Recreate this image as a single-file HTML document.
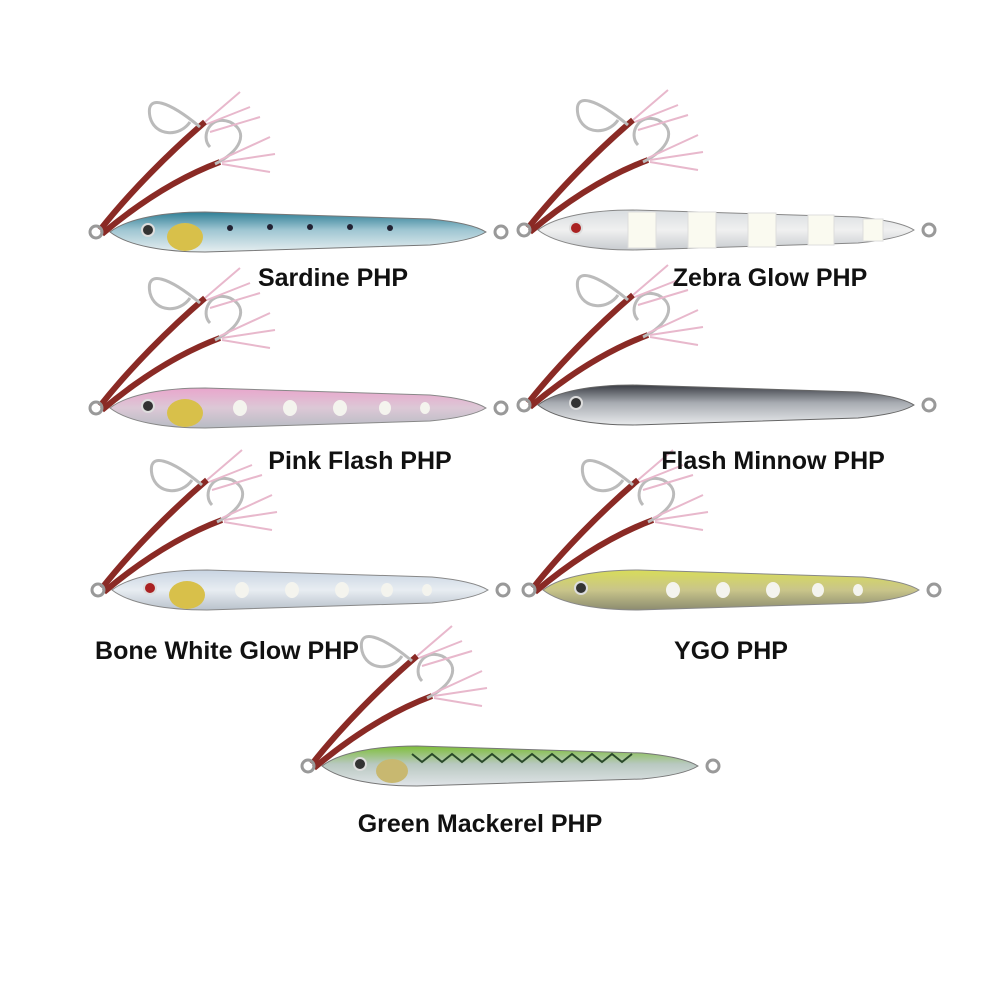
<!DOCTYPE html>
<html><head><meta charset="utf-8"><style>
html,body{margin:0;padding:0;background:#fff;width:1000px;height:1000px;overflow:hidden}
.l{position:absolute;font-family:"Liberation Sans",sans-serif;font-weight:bold;font-size:25px;color:#111;white-space:nowrap;transform:translateX(-50%)}
</style></head><body>
<svg width="1000" height="1000" style="position:absolute;left:0;top:0">
<defs>
<path id="body" d="M0,0 C18,-14 55,-20 95,-20 L320,-13 C352,-10 368,-5 376,0 C368,5 352,10 320,13 L95,20 C55,20 18,14 0,0 Z"/>
<g id="hook" fill="none">
 <path d="M-10,-2 C20,-40 60,-80 95,-110" stroke="#8a2a25" stroke-width="6"/>
 <path d="M-8,2 C30,-30 70,-55 110,-70" stroke="#8a2a25" stroke-width="6"/>
 <path d="M90,-105 C60,-130 35,-140 40,-115 C45,-95 70,-95 80,-110" stroke="#bbb" stroke-width="3"/>
 <path d="M105,-68 C130,-80 140,-100 120,-110 C100,-118 90,-95 100,-85" stroke="#bbb" stroke-width="3"/>
 <path d="M95,-110 L130,-140 M97,-108 L140,-125 M100,-100 L150,-115 M110,-72 L160,-95 M112,-70 L165,-78 M112,-68 L160,-60" stroke="#e8b8cc" stroke-width="2"/>
 <circle cx="-14" cy="0" r="6" stroke="#999" stroke-width="3"/>
</g>
<linearGradient id="g1" x1="0" y1="0" x2="0" y2="1"><stop offset="0" stop-color="#2f7f96"/><stop offset=".45" stop-color="#9fc6d2"/><stop offset="1" stop-color="#e6eef0"/></linearGradient>
<linearGradient id="g2" x1="0" y1="0" x2="0" y2="1"><stop offset="0" stop-color="#d8dce0"/><stop offset=".5" stop-color="#f0f0f0"/><stop offset="1" stop-color="#c8ccd0"/></linearGradient>
<linearGradient id="g3" x1="0" y1="0" x2="0" y2="1"><stop offset="0" stop-color="#e9a6cc"/><stop offset=".5" stop-color="#dcc8d6"/><stop offset="1" stop-color="#b8bcc4"/></linearGradient>
<linearGradient id="g4" x1="0" y1="0" x2="0" y2="1"><stop offset="0" stop-color="#3a3d44"/><stop offset=".45" stop-color="#a8acb2"/><stop offset="1" stop-color="#e8eaec"/></linearGradient>
<linearGradient id="g5" x1="0" y1="0" x2="0" y2="1"><stop offset="0" stop-color="#c8d4e2"/><stop offset=".5" stop-color="#e8edf2"/><stop offset="1" stop-color="#b9c2cc"/></linearGradient>
<linearGradient id="g6" x1="0" y1="0" x2="0" y2="1"><stop offset="0" stop-color="#d8dc5a"/><stop offset=".5" stop-color="#c9c58a"/><stop offset="1" stop-color="#8c8c70"/></linearGradient>
<linearGradient id="g7" x1="0" y1="0" x2="0" y2="1"><stop offset="0" stop-color="#7fbf3a"/><stop offset=".45" stop-color="#b8c8c0"/><stop offset="1" stop-color="#e0e4e8"/></linearGradient>
<g id="spots" fill="#f4f4ee"><ellipse cx="130" cy="0" rx="7" ry="8"/><ellipse cx="180" cy="0" rx="7" ry="8"/><ellipse cx="230" cy="0" rx="7" ry="8"/><ellipse cx="275" cy="0" rx="6" ry="7"/><ellipse cx="315" cy="0" rx="5" ry="6"/></g>
</defs>

<g transform="translate(110,232)"><use href="#hook"/><use href="#body" fill="url(#g1)" stroke="#777" stroke-width="1"/><ellipse cx="75" cy="5" rx="18" ry="14" fill="#d8c04a"/><g fill="#223"><circle cx="120" cy="-4" r="3"/><circle cx="160" cy="-5" r="3"/><circle cx="200" cy="-5" r="3"/><circle cx="240" cy="-5" r="3"/><circle cx="280" cy="-4" r="3"/></g><circle cx="38" cy="-2" r="6" fill="#333" stroke="#ddd" stroke-width="2"/><circle cx="391" cy="0" r="6" fill="none" stroke="#999" stroke-width="3"/></g>

<g transform="translate(538,230)"><use href="#hook"/><use href="#body" fill="url(#g2)" stroke="#888" stroke-width="1"/><g fill="#fafaf0" stroke="#ddd"><rect x="90" y="-18" width="28" height="36"/><rect x="150" y="-18" width="28" height="36"/><rect x="210" y="-17" width="28" height="34"/><rect x="270" y="-15" width="26" height="30"/><rect x="325" y="-11" width="20" height="22"/></g><circle cx="38" cy="-2" r="6" fill="#a22" stroke="#ddd" stroke-width="2"/><circle cx="391" cy="0" r="6" fill="none" stroke="#999" stroke-width="3"/></g>

<g transform="translate(110,408)"><use href="#hook"/><use href="#body" fill="url(#g3)" stroke="#888" stroke-width="1"/><ellipse cx="75" cy="5" rx="18" ry="14" fill="#d8c04a"/><use href="#spots"/><circle cx="38" cy="-2" r="6" fill="#333" stroke="#ddd" stroke-width="2"/><circle cx="391" cy="0" r="6" fill="none" stroke="#999" stroke-width="3"/></g>

<g transform="translate(538,405)"><use href="#hook"/><use href="#body" fill="url(#g4)" stroke="#666" stroke-width="1"/><circle cx="38" cy="-2" r="6" fill="#333" stroke="#ddd" stroke-width="2"/><circle cx="391" cy="0" r="6" fill="none" stroke="#999" stroke-width="3"/></g>

<g transform="translate(112,590)"><use href="#hook"/><use href="#body" fill="url(#g5)" stroke="#888" stroke-width="1"/><ellipse cx="75" cy="5" rx="18" ry="14" fill="#d8c04a"/><use href="#spots"/><circle cx="38" cy="-2" r="6" fill="#a22" stroke="#ddd" stroke-width="2"/><circle cx="391" cy="0" r="6" fill="none" stroke="#999" stroke-width="3"/></g>

<g transform="translate(543,590)"><use href="#hook"/><use href="#body" fill="url(#g6)" stroke="#888" stroke-width="1"/><use href="#spots"/><circle cx="38" cy="-2" r="6" fill="#333" stroke="#ddd" stroke-width="2"/><circle cx="391" cy="0" r="6" fill="none" stroke="#999" stroke-width="3"/></g>

<g transform="translate(322,766)"><use href="#hook"/><use href="#body" fill="url(#g7)" stroke="#777" stroke-width="1"/><path d="M90,-12 l10,8 l10,-8 l10,8 l10,-8 l10,8 l10,-8 l10,8 l10,-8 l10,8 l10,-8 l10,8 l10,-8 l10,8 l10,-8 l10,8 l10,-8 l10,8 l10,-8 l10,8 l10,-8 l10,8 l10,-8" fill="none" stroke="#2a4a2a" stroke-width="2"/><ellipse cx="70" cy="5" rx="16" ry="12" fill="#c8b870"/><circle cx="38" cy="-2" r="6" fill="#333" stroke="#ddd" stroke-width="2"/><circle cx="391" cy="0" r="6" fill="none" stroke="#999" stroke-width="3"/></g>
</svg>
<div class="l" style="left:333px;top:264px">Sardine PHP</div>
<div class="l" style="left:770px;top:264px">Zebra Glow PHP</div>
<div class="l" style="left:360px;top:447px">Pink Flash PHP</div>
<div class="l" style="left:773px;top:447px">Flash Minnow PHP</div>
<div class="l" style="left:227px;top:637px">Bone White Glow PHP</div>
<div class="l" style="left:731px;top:637px">YGO PHP</div>
<div class="l" style="left:480px;top:810px">Green Mackerel PHP</div>
</body></html>
